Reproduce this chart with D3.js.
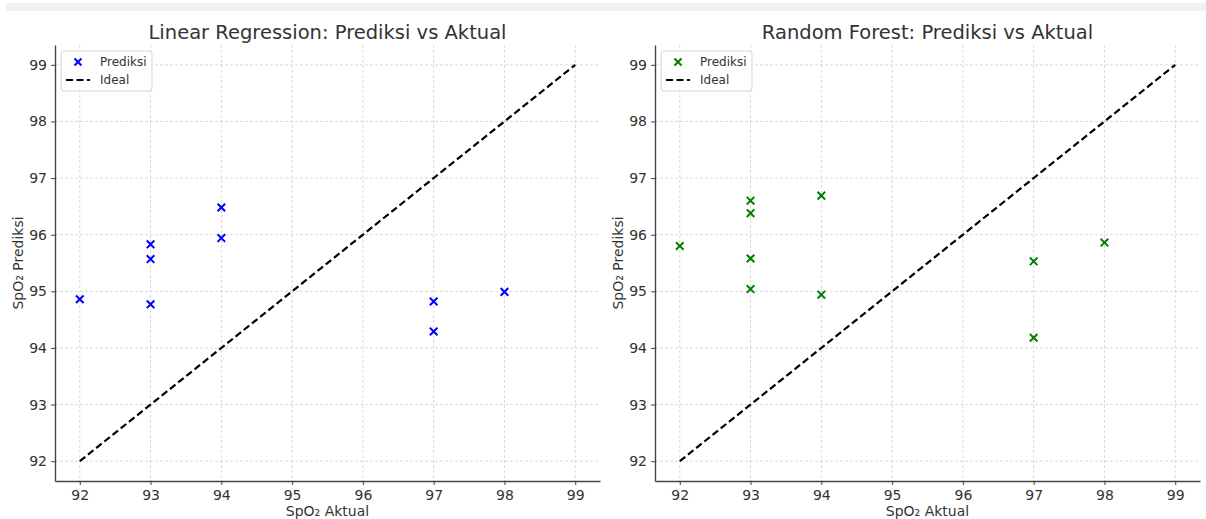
<!DOCTYPE html>
<html><head><meta charset="utf-8">
<script src="https://cdn.jsdelivr.net/npm/d3@7"></script>
<style>body{margin:0;background:#fff;}svg text{font-family:"DejaVu Sans",sans-serif;fill:#333;}</style>
</head><body>
<svg id="c" width="1206" height="519"></svg>
<script>
const actual = [92, 93, 93, 93, 94, 94, 97, 97, 98];
const predLR = [94.86, 95.83, 95.57, 94.77, 96.48, 95.94, 94.82, 94.29, 94.99];
const actualRF = [92, 93, 93, 93, 93, 94, 94, 97, 97, 98];
const predRF = [95.80, 96.60, 96.38, 95.58, 95.04, 96.69, 94.94, 95.53, 94.18, 95.86];
const ideal = [92, 99];
const ticks = [92, 93, 94, 95, 96, 97, 98, 99];
const titles = ["Linear Regression: Prediksi vs Aktual", "Random Forest: Prediksi vs Aktual"];
const colors = ["#0000ff", "#008000"];

const svg = d3.select("#c");
svg.append("rect").attr("x",6).attr("y",3).attr("width",1200).attr("height",8).attr("fill","#f3f1ee");

const panels = [
  {left:55, xs: actual, ys: predLR, title: titles[0], color: colors[0]},
  {left:655, xs: actualRF, ys: predRF, title: titles[1], color: colors[1]}
];
const W = 545, plotTop = 45, plotBottom = 481;

panels.forEach(p => {
  const x = d3.scaleLinear().domain([91.65, 99.35]).range([p.left, p.left + W]);
  const y = d3.scaleLinear().domain([91.65, 99.35]).range([plotBottom, plotTop]);
  const g = svg.append("g");
  // grid
  g.append("g").selectAll("line").data(ticks).join("line")
    .attr("x1", d => x(d)).attr("x2", d => x(d)).attr("y1", plotTop).attr("y2", plotBottom)
    .attr("stroke", "#cfcfcf").attr("stroke-width", 0.8).attr("stroke-dasharray", "3,2");
  g.append("g").selectAll("line").data(ticks).join("line")
    .attr("y1", d => y(d)).attr("y2", d => y(d)).attr("x1", p.left).attr("x2", p.left + W)
    .attr("stroke", "#cfcfcf").attr("stroke-width", 0.8).attr("stroke-dasharray", "3,2");
  // axes
  const xa = g.append("g").attr("transform", `translate(0,${plotBottom})`)
    .call(d3.axisBottom(x).tickValues(ticks).tickSizeInner(4).tickSizeOuter(0).tickPadding(5).tickFormat(d3.format("d")));
  const ya = g.append("g").attr("transform", `translate(${p.left},0)`)
    .call(d3.axisLeft(y).tickValues(ticks).tickSizeInner(4).tickSizeOuter(0).tickPadding(4).tickFormat(d3.format("d")));
  [xa, ya].forEach(a => {
    a.select(".domain").attr("stroke", "#444").attr("stroke-width", 1.4);
    a.selectAll(".tick line").attr("stroke", "#444");
    a.selectAll(".tick text").style("font-size", "14px").attr("fill", "#333");
  });
  // ideal line
  g.append("line").attr("x1", x(ideal[0])).attr("y1", y(ideal[0])).attr("x2", x(ideal[1])).attr("y2", y(ideal[1]))
    .attr("stroke", "#000").attr("stroke-width", 2.2).attr("stroke-dasharray", "7,3.5");
  // markers
  const s = 3.8;
  const pts = p.xs.map((v, i) => [v, p.ys[i]]);
  g.append("g").selectAll("path").data(pts).join("path")
    .attr("d", d => {const cx = x(d[0]), cy = y(d[1]);
      return `M${cx-s},${cy-s}L${cx+s},${cy+s}M${cx-s},${cy+s}L${cx+s},${cy-s}`;})
    .attr("stroke", p.color).attr("stroke-width", 2).attr("fill", "none");
  // title and labels
  g.append("text").attr("x", p.left + W/2).attr("y", 39).attr("text-anchor", "middle")
    .style("font-size", "19.5px").text(p.title);
  g.append("text").attr("x", p.left + W/2).attr("y", 516).attr("text-anchor", "middle")
    .style("font-size", "14px").text("SpO₂ Aktual");
  g.append("text").attr("transform", `translate(${p.left - 32},${(plotTop+plotBottom)/2}) rotate(-90)`)
    .attr("text-anchor", "middle").style("font-size", "14px").text("SpO₂ Prediksi");
  // legend
  const lx = p.left + 6, ly = 51;
  g.append("rect").attr("x", lx).attr("y", ly).attr("width", 91).attr("height", 40).attr("rx", 3)
    .attr("fill", "#fff").attr("fill-opacity", 0.85).attr("stroke", "#d6d6d6");
  const mx = lx + 17, my = ly + 11;
  g.append("path").attr("d", `M${mx-3.5},${my-3.5}L${mx+3.5},${my+3.5}M${mx-3.5},${my+3.5}L${mx+3.5},${my-3.5}`)
    .attr("stroke", p.color).attr("stroke-width", 2);
  g.append("line").attr("x1", lx + 5).attr("x2", lx + 29).attr("y1", ly + 29).attr("y2", ly + 29)
    .attr("stroke", "#000").attr("stroke-width", 2.2).attr("stroke-dasharray", "7,3.5");
  g.append("text").attr("x", lx + 39).attr("y", my + 4).style("font-size", "12px").text("Prediksi");
  g.append("text").attr("x", lx + 39).attr("y", ly + 33).style("font-size", "12px").text("Ideal");
});
</script>
</body></html>
